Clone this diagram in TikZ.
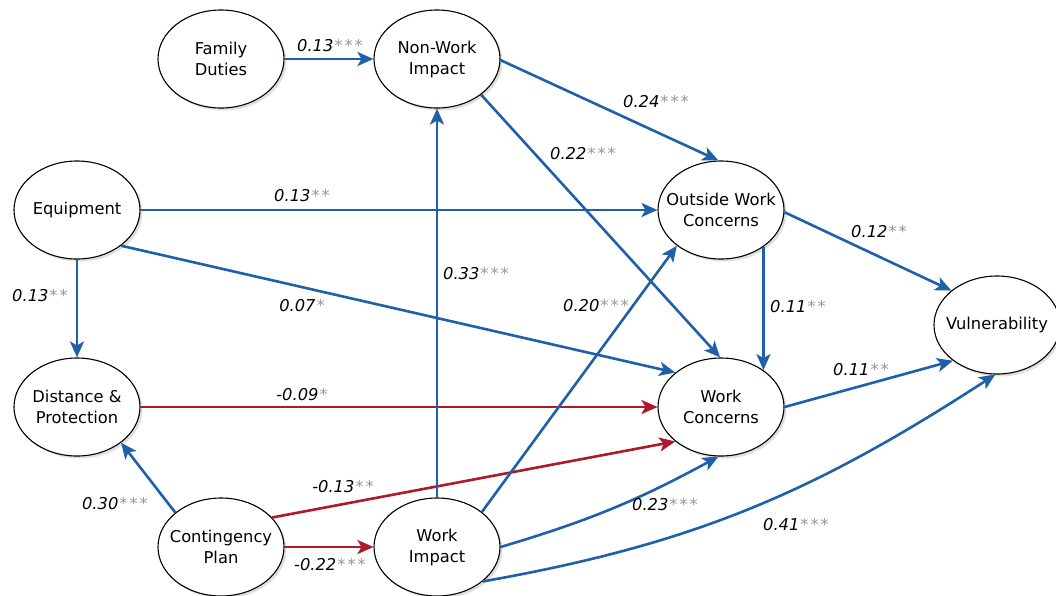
\documentclass[tikz,border=0pt]{standalone}
\usepackage{fontspec}
\setmainfont{DejaVu Sans}
\usetikzlibrary{shapes.geometric,arrows.meta,shadows}
\definecolor{pblue}{RGB}{32,96,168}
\definecolor{pred}{RGB}{176,24,43}
\definecolor{stargrey}{RGB}{150,150,150}
\newcommand{\coef}[2]{\textit{#1}\kern1pt\textcolor{stargrey}{#2}}
\newcommand{\sOne}{*}
\newcommand{\sTwo}{*\kern2pt*}
\newcommand{\sThree}{*\kern2pt*\kern2pt*}
\begin{document}
\begin{tikzpicture}[x=1pt,y=1pt,
  latent/.style={ellipse, draw=black, line width=1.1pt, fill=white,
    minimum width=126pt, minimum height=98pt, inner sep=0pt,
    drop shadow={shadow xshift=2.5pt, shadow yshift=-2.5pt, fill=black!30, opacity=0.4}},
  lbl/.style={align=center, inner sep=0pt, font=\fontsize{16.3}{21}\selectfont},
  posarrow/.style={draw=pblue, line width=2.6pt, -{Stealth[length=16pt,width=14pt,inset=4pt]}},
  negarrow/.style={draw=pred, line width=2.6pt, -{Stealth[length=16pt,width=14pt,inset=4pt]}},
  coefl/.style={font=\fontsize{16.3}{19}\selectfont, inner sep=0pt}
]
\useasboundingbox[fill=white] (0,0) rectangle (1056,-595);

% nodes
\node[latent] (fd)  at (221,-59)  {};
\node[latent] (nwi) at (437,-59)  {};
\node[latent] (eq)  at (77,-210)  {};
\node[latent] (owc) at (721,-210) {};
\node[latent] (dp)  at (77,-407)  {};
\node[latent] (wc)  at (721,-407) {};
\node[latent] (vul) at (997,-325) {};
\node[latent] (cp)  at (221,-547) {};
\node[latent] (wi)  at (437,-547) {};

\node[lbl] (fdt)  at (fd)  {Family\\Duties};
\node[lbl] (nwit) at (nwi) {Non-Work\\Impact};
\node[lbl] (eqt)  at (eq)  {Equipment};
\node[lbl] (owct) at (owc) {Outside Work\\Concerns};
\node[lbl] (dpt)  at (dp)  {Distance \&\\Protection};
\node[lbl] (wct)  at (wc)  {Work\\Concerns};
\node[lbl] (vult) at (vul) {Vulnerability};
\node[lbl] (cpt)  at (cp)  {Contingency\\Plan};
\node[lbl] (wit)  at (wi)  {Work\\Impact};

% connectors
\draw[posarrow] (fd.east) -- (nwi.west);
\draw[posarrow] (nwi.-1) -- (owc.93);
\draw[posarrow] (nwi.-39) -- (wc.91);
\draw[posarrow] (eq.east) -- (owc.west);
\draw[posarrow] (eq.-39) -- (wc.143);
\draw[posarrow] (eq.south) -- (dp.north);
\draw[negarrow] (dp.east) -- (wc.west);
\draw[posarrow] (cp.143) -- (dp.-39);
\draw[negarrow] (cp.30) -- (wc.217);
\draw[negarrow] (cp.east) -- (wi.west);
\draw[posarrow] (wi.north) -- (nwi.south);
\draw[posarrow] (wi.38) -- (owc.219);
\draw[posarrow] (wi.east) to[bend right=6] (wc.-93);
\draw[posarrow] (wi.-37) to[out=10,in=213] (vul.-92);
\draw[posarrow] (owc.-41) -- (wc.41);
\draw[posarrow] (owc.-2) -- (vul.143);
\draw[posarrow] (wc.east) -- (vul.219);

% coefficients
\node[coefl] (c1)  at (330,-46)  {\coef{0.13}{\sThree}};
\node[coefl] (c2)  at (656,-102) {\coef{0.24}{\sThree}};
\node[coefl] (c3)  at (583,-154) {\coef{0.22}{\sThree}};
\node[coefl] (c4)  at (302,-196) {\coef{0.13}{\sTwo}};
\node[coefl] (c5)  at (476,-274) {\coef{0.33}{\sThree}};
\node[coefl] (c6)  at (40,-296)  {\coef{0.13}{\sTwo}};
\node[coefl] (c7)  at (302,-306) {\coef{0.07}{\sOne}};
\node[coefl] (c8)  at (302,-395) {\coef{-0.09}{\sOne}};
\node[coefl] (c9)  at (115,-504) {\coef{0.30}{\sThree}};
\node[coefl] (c10) at (343,-487) {\coef{-0.13}{\sTwo}};
\node[coefl] (c11) at (330,-565) {\coef{-0.22}{\sThree}};
\node[coefl] (c12) at (596,-306) {\coef{0.20}{\sThree}};
\node[coefl] (c13) at (798,-307) {\coef{0.11}{\sTwo}};
\node[coefl] (c14) at (879,-232) {\coef{0.12}{\sTwo}};
\node[coefl] (c15) at (861,-370) {\coef{0.11}{\sTwo}};
\node[coefl] (c16) at (665,-505) {\coef{0.23}{\sThree}};
\node[coefl] (c17) at (796,-525) {\coef{0.41}{\sThree}};
\end{tikzpicture}
\end{document}
